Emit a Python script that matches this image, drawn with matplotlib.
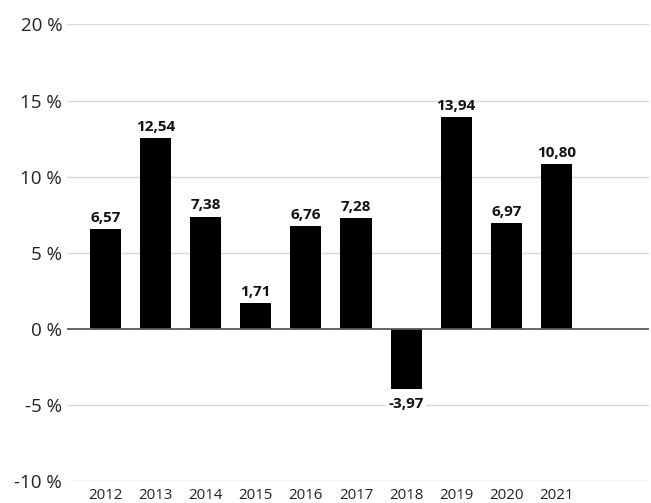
import matplotlib
matplotlib.use("Agg")
import matplotlib.pyplot as plt

years = ["2012", "2013", "2014", "2015", "2016", "2017", "2018", "2019", "2020", "2021"]
returns = [6.57, 12.54, 7.38, 1.71, 6.76, 7.28, -3.97, 13.94, 6.97, 10.80]
y_ticks = [-10, -5, 0, 5, 10, 15, 20]

plt.rcParams["font.family"] = ["Open Sans", "DejaVu Sans"]

fig = plt.figure(figsize=(6.51, 5.03), dpi=100)
ax = fig.add_axes([0.103, 0.0437, 0.894, 0.9076])

x = list(range(len(years)))
ax.bar(x, returns, width=0.62, color="black", zorder=2)

ax.set_ylim(-10, 20)
ax.set_xlim(-0.767, 10.85)
ax.set_yticks(y_ticks)
ax.set_yticklabels([f"{t} %" for t in y_ticks], fontsize=13.5, color="#222222")
ax.set_xticks(x)
ax.set_xticklabels(years, fontsize=10.8, color="#222222")
ax.tick_params(axis="both", length=0)
ax.tick_params(axis="y", pad=3.5)
ax.tick_params(axis="x", pad=5)

for s in ax.spines.values():
    s.set_visible(False)

for t in y_ticks:
    if t == 0:
        ax.axhline(0, color="#595959", lw=1.3, zorder=3)
    else:
        ax.axhline(t, color="#d9d9d9", lw=1.0, zorder=1)

for xi, v in zip(x, returns):
    label = f"{v:.2f}".replace(".", ",")
    if v >= 0:
        ax.annotate(label, (xi, v), xytext=(0, 3), textcoords="offset points",
                    ha="center", va="bottom", fontsize=11, fontweight="bold",
                    color="#111111", zorder=4)
    else:
        ax.annotate(label, (xi, v), xytext=(0, -5.5), textcoords="offset points",
                    ha="center", va="top", fontsize=11, fontweight="bold",
                    color="#111111", zorder=4,
                    bbox=dict(boxstyle="square,pad=0.15", fc="white", ec="none"))

fig.savefig("out.png", dpi=100)
